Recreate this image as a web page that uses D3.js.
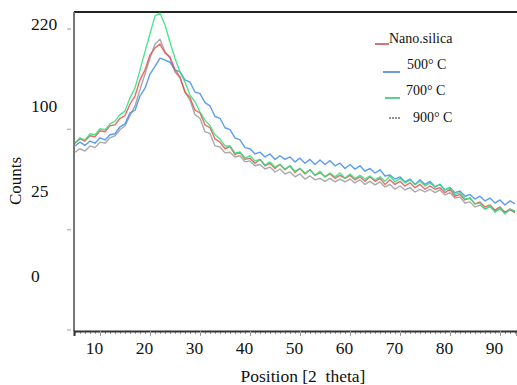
<!DOCTYPE html>
<html>
<head>
<meta charset="utf-8">
<script src="https://cdn.jsdelivr.net/npm/d3@7"></script>
<style>
  html, body { margin: 0; padding: 0; background: #fff; }
  svg { display: block; }
</style>
</head>
<body>
<svg id="svg" width="517" height="385"></svg>
<script>
// 2 theta positions, one reading per degree
const startAngle = 5;

const nanoSilica = [61, 65, 63, 68, 67, 73, 72, 78, 79, 86, 89, 102, 112, 133, 147, 169, 180, 186, 172, 166,
  147, 137, 117, 110, 95, 92, 79, 76, 65, 62, 56, 58, 51, 53, 47, 48, 44, 47, 42, 44,
  40, 43, 39, 42, 37, 40, 36, 39, 35, 37, 34, 36, 33, 35, 33, 35, 32, 34, 31, 34,
  31, 33, 29, 32, 29, 31, 28, 30, 27, 29, 26, 28, 26, 27, 24, 26, 22, 23, 20, 21,
  18, 19, 16.5, 17.5, 15, 16.5, 14, 15.5, 14];

const c500 = [58.5, 62, 59, 63, 61, 66, 64, 69, 70, 77, 80, 92, 95, 112, 122, 141, 152, 164, 161, 158,
  147, 144, 133, 130, 117, 115, 104, 100, 88, 86, 76, 74, 66, 64, 57, 56, 51.5, 53, 49, 51.5,
  47, 50, 47, 49, 45, 48, 44, 47, 43, 46.5, 43, 46, 42, 44, 40, 43, 39.5, 42, 38, 40,
  36.7, 39, 34.6, 35.3, 32.5, 34, 30.6, 32.5, 29, 32, 29, 31, 27.4, 29, 25.6, 27, 24, 25, 22, 23,
  20.5, 22, 19.5, 21, 18.4, 20, 17.4, 19.5, 18];

const c700 = [61, 66, 64, 70, 69, 75, 74, 80, 83, 90, 94, 110, 122, 147, 174, 203, 234, 239, 218, 189,
  164, 144, 130, 113, 105, 93, 84, 78, 69, 65, 58.5, 58.5, 52.4, 53, 48, 50, 45.8, 47, 42.6, 45,
  41, 43, 39.6, 42, 38, 40, 36.7, 39, 35, 38, 34, 36.7, 34, 36.7, 33, 36, 33, 35, 32.5, 34.6,
  32, 34, 31, 34.6, 30.6, 33, 30, 32, 29, 31, 28, 30, 27.4, 29, 25.6, 27, 23, 24, 20.5, 21,
  18, 18.4, 15.5, 17, 14, 16, 13.3, 15.5, 14.6];

const c900 = [53, 56, 54, 58.5, 57, 62, 61, 66, 68, 74, 78, 89, 100, 120, 141, 164, 186, 194, 174, 164,
  144, 136, 117, 107, 90, 86, 72, 70, 58.5, 57.6, 52.4, 53, 49, 50, 45, 45.8, 42, 43, 39.6, 41,
  37.4, 39.6, 36, 37.4, 34, 36, 32.5, 34.6, 32, 33, 31, 33, 30.6, 32.5, 30.6, 32.5, 30, 32, 29, 31,
  28.7, 30.6, 27.4, 29, 26, 28, 25.6, 27, 24.4, 26, 24.4, 26, 24, 25.6, 22.7, 24, 21, 21.6, 18.4, 19,
  16.5, 17.4, 15.5, 16.5, 14.6, 15.5, 14, 15, 14];

const seriesNames = ['Nano.silica', '500° C', '700° C', '900° C'];
const seriesColors = ['#e8504f', '#3f8cf0', '#2fe07a', '#9a9a9a'];
const seriesValues = [nanoSilica, c500, c700, c900];

const xTicks = [10, 20, 30, 40, 50, 60, 70, 80, 90];
const yTicks = [0, 25, 100, 220];

const serif = 'Liberation Serif';
const svg = d3.select('#svg');

const plotLeft = 74, plotRight = 517, plotTop = 12, plotBottom = 331;

const x = d3.scaleLinear().domain([4.8, 93.4]).range([plotLeft, plotRight]);
const y = d3.scaleSqrt().domain([0, 241]).range([276, plotTop]);

// frame
svg.append('line')
  .attr('x1', plotLeft).attr('x2', plotRight).attr('y1', plotTop).attr('y2', plotTop)
  .attr('stroke', '#222').attr('stroke-width', 2);
svg.append('line')
  .attr('x1', plotLeft).attr('x2', plotLeft).attr('y1', plotTop).attr('y2', plotBottom)
  .attr('stroke', '#777').attr('stroke-width', 2);

// minor ticks on x
svg.append('g')
  .attr('transform', 'translate(0,' + plotBottom + ')')
  .call(d3.axisBottom(x).tickValues(d3.range(5, 94)).tickSize(3).tickFormat(''))
  .call(g => g.select('.domain').remove())
  .selectAll('line').attr('stroke', '#999');

// x axis
const xAxis = svg.append('g')
  .attr('transform', 'translate(0,' + plotBottom + ')')
  .call(d3.axisBottom(x).tickValues(xTicks).tickSize(5).tickPadding(6));
xAxis.select('.domain').attr('stroke', '#333').attr('stroke-width', 2);
xAxis.selectAll('line').attr('stroke', '#999');
xAxis.selectAll('text')
  .attr('dx', -6)
  .attr('fill', '#111')
  .style('font-family', serif)
  .style('font-size', '17.5px');

// y axis labels
const yAxis = svg.append('g')
  .attr('transform', 'translate(' + plotLeft + ',0)')
  .call(d3.axisLeft(y).tickValues(yTicks).tickSize(0));
yAxis.select('.domain').remove();
yAxis.selectAll('text')
  .attr('x', 31 - plotLeft)
  .attr('text-anchor', 'start')
  .attr('fill', '#111')
  .style('font-family', serif)
  .style('font-size', '17.5px');

// faint marks left of the y axis line
const yMarks = d3.scaleLinear().domain([0, 3]).range([330, 29]);
svg.append('g')
  .selectAll('line')
  .data(d3.range(0, 4))
  .join('line')
  .attr('x1', 67).attr('x2', 71)
  .attr('y1', d => yMarks(d)).attr('y2', d => yMarks(d))
  .attr('stroke', '#bbb').attr('stroke-width', 1.5);

// curves
const line = d3.line()
  .x((d, i) => x(startAngle + i))
  .y(d => y(d));

svg.append('g')
  .selectAll('path')
  .data([3, 1, 0, 2])
  .join('path')
  .attr('d', k => line(seriesValues[k]))
  .attr('fill', 'none')
  .attr('stroke', k => seriesColors[k])
  .attr('stroke-width', 1.4)
  .attr('stroke-opacity', 0.85)
  .attr('stroke-linejoin', 'round');

// legend
const legendPos = [
  { lx1: 375, lx2: 389, ly: 44, tx: 389, ty: 43 },
  { lx1: 383, lx2: 400, ly: 72, tx: 407, ty: 69 },
  { lx1: 385, lx2: 400, ly: 98, tx: 406, ty: 95 },
  { lx1: 389, lx2: 400, ly: 118, tx: 413, ty: 122 }
];
const legend = svg.append('g');
seriesNames.forEach((name, i) => {
  const p = legendPos[i];
  legend.append('line')
    .attr('x1', p.lx1).attr('x2', p.lx2).attr('y1', p.ly).attr('y2', p.ly)
    .attr('stroke', i === 3 ? '#222' : d3.color(seriesColors[i]).darker(0.4))
    .attr('stroke-width', i === 3 ? 1 : 1.5)
    .attr('stroke-dasharray', i === 3 ? '2,1' : null);
  legend.append('text')
    .attr('x', p.tx).attr('y', p.ty)
    .attr('fill', '#111')
    .style('font-family', serif)
    .style('font-size', '14px')
    .text(name);
});

// axis titles
svg.append('text')
  .attr('transform', 'translate(21,181) rotate(-90)')
  .attr('text-anchor', 'middle')
  .attr('fill', '#111')
  .style('font-family', serif)
  .style('font-size', '17px')
  .text('Counts');

svg.append('text')
  .attr('x', 303).attr('y', 382)
  .attr('text-anchor', 'middle')
  .attr('fill', '#111')
  .style('font-family', serif)
  .style('font-size', '17.5px')
  .style('white-space', 'pre')
  .text('Position [2  theta]');
</script>
</body>
</html>
